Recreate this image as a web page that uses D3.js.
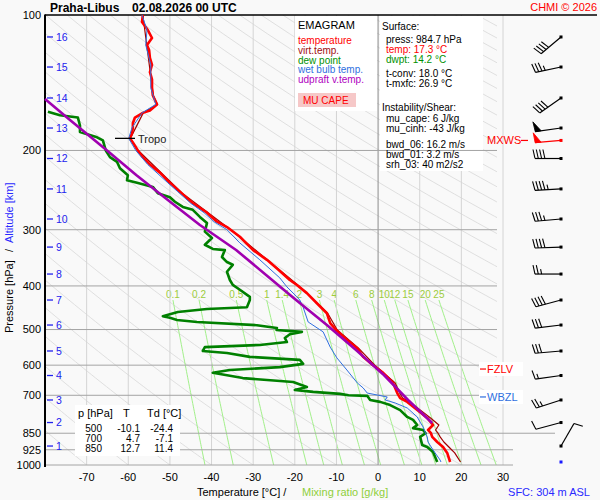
<!DOCTYPE html>
<html>
<head>
<meta charset="utf-8">
<script src="https://cdn.jsdelivr.net/npm/d3@7"></script>
<style>
    body { margin: 0; background: #f9f9f9; }
    svg { display: block; font-family: "Liberation Sans", Arial, sans-serif; }
</style>
</head>
<body>
<div id="chart"></div>
<script>
/*global d3 */

////////////////////////////////////////
// data read off the sounding
////////////////////////////////////////

var presLevels = [100, 200, 300, 400, 500, 600, 700, 850, 925, 1000];
var tempTicks = [-70, -60, -50, -40, -30, -20, -10, 0, 10, 20, 30];
var mixRatios = [0.1, 0.2, 0.5, 1, 1.4, 2, 3, 4, 6, 8, 10, 12, 15, 20, 25];
var mixLabels = ["0.1", "0.2", "0.5", "1", "1.4", "2", "3", "4", "6", "8",
                 "10", "12", "15", "20", "25"];

var altKm = [1, 2, 3, 4, 5, 6, 7, 8, 9, 10, 11, 12, 13, 14, 15, 16];
var altP = [907.5, 804.7, 717, 632.6, 558, 488.6, 429.9, 376.4, 327.9,
            284, 243.5, 208.4, 178.3, 152.9, 130.5, 111.9];

var tempP = [100, 103.6, 108, 112.5, 116.6, 119.6, 124.6, 129, 134, 139,
             145, 151, 158, 163, 165, 169, 174, 178, 183, 188, 192, 200,
             207, 215, 224, 236, 247, 262, 275, 288, 296, 311, 333, 350,
             369, 388, 398, 415, 437, 460, 484, 501, 527, 550, 575, 600,
             624, 657, 692, 710, 724, 763, 786, 815, 836, 850, 866, 889,
             912, 940, 984.7];
var tempT = [-56.5, -56.7, -55.3, -54.3, -55.5, -55.0, -54.8, -54.3, -54.8,
             -54.3, -54.3, -54.1, -53.1, -54.8, -56.5, -58.4, -58.9, -58.9,
             -59.1, -59.6, -58.9, -57.7, -56.5, -54.8, -52.4, -50.0, -47.6,
             -44.5, -41.1, -38.7, -36.3, -33.2, -30.0, -26.7, -23.8, -21.2,
             -19.5, -17.1, -14.7, -12.3, -11.5, -10.1, -7.5, -5.0, -3.6,
             -1.2, 1.2, 3.6, 4.6, 5.3, 7.0, 10.1, 11.8, 13.2, 12.0, 12.7,
             13.0, 14.2, 15.6, 16.6, 17.3];

var virtP = [100, 151, 158, 165, 188, 200, 250, 300, 400, 460, 501, 550,
             600, 657, 692, 710, 724, 763, 786, 815, 836, 850, 866, 889,
             912, 940, 984.7];
var virtT = [-56.5, -54.0, -53.0, -56.4, -59.5, -57.6, -46.8, -35.4, -19.0,
             -12.1, -9.8, -4.7, -0.8, 4.1, 5.2, 5.9, 7.6, 10.8, 12.6, 14.6,
             13.8, 14.4, 14.9, 15.8, 17.0, 18.4, 19.8];

var dewP = [164, 167, 169, 176, 182, 187, 190, 200, 207, 212, 219, 227, 233,
            236, 241, 249, 254, 260, 267, 271, 281, 290, 303, 313, 324, 331,
            333, 345, 354, 359, 372, 388, 398, 408, 423, 430, 446, 450, 457,
            467, 471, 476, 481, 489, 496, 501, 506, 512, 522, 533, 541, 547,
            558, 564, 575, 584, 596, 606, 615, 624, 641, 654, 671, 681, 688,
            695, 700, 702, 717, 724, 736, 755, 782, 794, 815, 828, 836, 850,
            866, 903, 912, 936, 984.7];
var dewT = [-79.3, -76.4, -72.1, -71.6, -71.6, -67.5, -66.1, -65.4, -64.4,
            -62.7, -62.0, -60.1, -60.3, -57.9, -54.1, -52.9, -50.0, -48.8,
            -46.9, -44.5, -42.8, -41.1, -41.6, -39.9, -41.6, -39.7, -36.8,
            -37.5, -36.3, -34.9, -36.3, -35.6, -34.9, -33.2, -30.8, -30.8,
            -31.5, -41.1, -48.1, -51.7, -50.0, -48.3, -43.5, -29.1, -24.3,
            -24.4, -18.3, -21.2, -22.4, -21.9, -28.4, -41.6, -42.1, -36.3,
            -30.8, -18.8, -18.0, -23.6, -35.6, -39.7, -32.5, -20.4, -17.1,
            -20.0, -15.6, -9.1, -7.1, -2.6, -1.9, 0.5, 2.9, 5.3, 7.0, 8.4,
            9.4, 8.4, 10.8, 11.4, 10.1, 10.6, 11.8, 13.2, 14.2];

var wetP = [100, 108, 116.6, 129, 145, 158, 165, 178, 188, 200, 215, 236,
            247, 262, 275, 288, 300, 321, 350, 384, 402, 423, 430, 446, 481,
            506, 547, 578, 615, 657, 674, 692, 699, 706, 717, 728, 747, 782,
            803, 823, 845, 866, 889, 926, 975, 984.7];
var wetT = [-56.7, -55.5, -55.8, -54.6, -54.6, -53.4, -56.7, -59.1, -59.9,
            -58.2, -55.3, -50.5, -48.1, -45.0, -41.8, -39.4, -36.3, -33.2,
            -28.4, -23.6, -21.9, -19.5, -18.8, -18.0, -16.8, -13.2, -11.5,
            -9.9, -7.5, -5.0, -3.6, -2.6, -0.2, 2.2, 1.7, 4.1, 7.0, 9.4,
            10.1, 10.8, 11.3, 11.8, 12.0, 13.2, 14.9, 15.1];

var parcP = [153.7, 171.1, 200, 226.8, 257.7, 292.9, 332.8, 378.2, 429.9,
             488.5, 555.2, 631.0, 717.1, 806.6];
var parcT = [-80.0, -74.0, -65.1, -58.1, -50.5, -42.8, -34.1, -26.9, -19.7,
             -12.3, -5.3, 1.4, 7.2, 13.0];

// winds at each km (same order as altKm)
var windDir = [30, 255, 252, 262, 265, 263, 255, 270, 268, 265, 267, 270,
               262, 235, 258, 230];
var windSpd = [10, 10, 25, 15, 30, 30, 40, 25, 40, 35, 45, 40, 50, 40, 35, 40];
var mxwsP = 190, mxwsDir = 265, mxwsSpd = 50;
var sfcP = 984.7;

var tropoP = 188, fzlvP = 612, wbzlP = 706;

var tableHead = ["p [hPa]", "T", "Td [°C]"];
var tableRows = [["500", "-10.1", "-24.4"],
                 ["700", "4.7", "-7.1"],
                 ["850", "12.7", "11.4"]];

var legendItems = [{t: "temperature", c: "#ff0000"},
                   {t: "virt.temp.", c: "#a01010"},
                   {t: "dew point", c: "#009000"},
                   {t: "wet bulb temp.", c: "#2f6fe0"},
                   {t: "udpraft v.temp.", c: "#b000c0"}];

var infoLines = [{t: "Surface:", c: "#000", dx: 0, y: 30},
                 {t: "press: 984.7 hPa", c: "#000", dx: 4, y: 43},
                 {t: "temp: 17.3 °C", c: "#ff0000", dx: 4, y: 53},
                 {t: "dwpt: 14.2 °C", c: "#009000", dx: 4, y: 63},
                 {t: "t-conv: 18.0 °C", c: "#000", dx: 4, y: 77},
                 {t: "t-mxfc: 26.9 °C", c: "#000", dx: 4, y: 87},
                 {t: "Instability/Shear:", c: "#000", dx: 0, y: 111},
                 {t: "mu_cape: 6 J/kg", c: "#000", dx: 4, y: 122},
                 {t: "mu_cinh: -43 J/kg", c: "#000", dx: 4, y: 132},
                 {t: "bwd_06: 16.2 m/s", c: "#000", dx: 4, y: 147.5},
                 {t: "bwd_01: 3.2 m/s", c: "#000", dx: 4, y: 157.5},
                 {t: "srh_03: 40 m2/s2", c: "#000", dx: 4, y: 167.5}];


////////////////////////////////////////
// helpers
////////////////////////////////////////

var x = d3.scaleLinear().domain([-80, 30]).range([45, 503]),
    y = d3.scaleLog().domain([100, 1000]).range([15, 465]),
    svg = d3.select("#chart").append("svg")
        .attr("width", 600).attr("height", 500);

var profLine = function (P, T) {
    return d3.line()(P.map(function (p, i) { return [x(T[i]), y(p)]; }));
};

// saturation temperature for mixing ratio w (g/kg) at p (hPa)
var mixTemp = function (w, p) {
    var e = w * p / (622 + w), l = Math.log(e / 6.112);
    return 243.5 * l / (17.67 - l);
};

var isobarEnd = function (p) {
    if (p === 600 || p === 700) { return 523; }
    if (p === 850) { return 555; }
    if (p === 925 || p === 1000) { return 513; }
    return 497;
};

var drawBarb = function (g, px, py, dir, spd, color) {
    var L = 26, r = dir * Math.PI / 180,
        ux = Math.sin(r), uy = -Math.cos(r),
        nx = -uy, ny = ux,
        tx = px + L * ux, ty = py + L * uy,
        rem = Math.round(spd / 5) * 5, pos = 0, bx, by;
    g.append("line").attr("x1", px).attr("y1", py)
        .attr("x2", tx).attr("y2", ty)
        .attr("stroke", color).attr("stroke-width", 1.2);
    while (rem >= 50) {
        bx = tx - ux * pos; by = ty - uy * pos;
        g.append("path")
            .attr("d", "M" + bx + "," + by +
                  "L" + (bx + nx * 10 + ux * 1) + "," + (by + ny * 10 + uy * 1) +
                  "L" + (bx - ux * 6) + "," + (by - uy * 6) + "Z")
            .attr("fill", color).attr("stroke", color).attr("stroke-width", 0.8);
        pos += 7; rem -= 50;
    }
    while (rem >= 10) {
        bx = tx - ux * pos; by = ty - uy * pos;
        g.append("line").attr("x1", bx).attr("y1", by)
            .attr("x2", bx + nx * 9 + ux * 2).attr("y2", by + ny * 9 + uy * 2)
            .attr("stroke", color).attr("stroke-width", 1.1);
        pos += 3.3; rem -= 10;
    }
    if (rem >= 5) {
        if (pos === 0) { pos = 3.3; }
        bx = tx - ux * pos; by = ty - uy * pos;
        g.append("line").attr("x1", bx).attr("y1", by)
            .attr("x2", bx + nx * 5 + ux * 1).attr("y2", by + ny * 5 + uy * 1)
            .attr("stroke", color).attr("stroke-width", 1.1);
    }
    g.append("rect").attr("x", px - 1.5).attr("y", py - 1.5)
        .attr("width", 3).attr("height", 3).attr("fill", color);
};

// one text element holding several lines (tspans with absolute positions)
var textBlock = function (items, size) {
    var t = svg.append("text").attr("font-size", size);
    items.forEach(function (d) {
        t.append("tspan").attr("x", d.x).attr("y", d.y)
            .attr("text-anchor", d.anchor || "start")
            .attr("font-size", d.size || size)
            .attr("fill", d.c || "#000").text(d.t);
    });
    return t;
};


////////////////////////////////////////
// grid
////////////////////////////////////////

svg.append("rect").attr("width", 600).attr("height", 500).attr("fill", "#f9f9f9");

svg.append("defs").append("clipPath").attr("id", "plotclip")
    .append("rect").attr("x", 45).attr("y", 15).attr("width", 452).attr("height", 450);

var grid = svg.append("g").attr("clip-path", "url(#plotclip)");

d3.range(-80, 330, 10).forEach(function (th) {
    var pts = d3.range(100, 1001, 10).map(function (p) {
        return [x((th + 273.15) * Math.pow(p / 1000, 0.2857) - 273.15), y(p)];
    });
    grid.append("path").attr("d", d3.line()(pts))
        .attr("fill", "none").attr("stroke", "#d8d8d8").attr("stroke-width", 0.8);
});

mixRatios.forEach(function (w, i) {
    var pts = d3.range(430, 1001, 10).map(function (p) {
        return [x(mixTemp(w, p)), y(p)];
    });
    svg.append("path").attr("d", d3.line()(pts))
        .attr("fill", "none").attr("stroke", "#a2f08a").attr("stroke-width", 1);
    svg.append("text").attr("x", x(mixTemp(w, 430))).attr("y", 298)
        .attr("text-anchor", "middle").attr("font-size", 10)
        .attr("fill", "#9ccc3c").text(mixLabels[i]);
});

tempTicks.forEach(function (t) {
    svg.append("line").attr("x1", x(t)).attr("x2", x(t))
        .attr("y1", 15).attr("y2", 465)
        .attr("stroke", t === 0 ? "#8c8c8c" : "#d4d4d4").attr("stroke-width", 1);
    svg.append("text").attr("x", x(t)).attr("y", 481)
        .attr("text-anchor", "middle").attr("font-size", 11).text(t);
});

// legend and info boxes
svg.append("rect").attr("x", 295).attr("y", 16).attr("width", 82).attr("height", 95)
    .attr("fill", "#ffffff");
svg.append("rect").attr("x", 380).attr("y", 16).attr("width", 103).attr("height", 155)
    .attr("fill", "#ffffff");

presLevels.forEach(function (p) {
    if (p === 100) { return; }
    svg.append("line").attr("x1", 45).attr("x2", isobarEnd(p))
        .attr("y1", y(p)).attr("y2", y(p))
        .attr("stroke", "#a4a4a4").attr("stroke-width", 1);
});
presLevels.forEach(function (p) {
    svg.append("text").attr("x", 41).attr("y", y(p)).attr("dy", "0.36em")
        .attr("text-anchor", "end").attr("font-size", 11).text(p);
});

// frame
svg.append("line").attr("x1", 45).attr("x2", 597).attr("y1", y(100)).attr("y2", y(100))
    .attr("stroke", "#000").attr("stroke-width", 1.5);
svg.append("line").attr("x1", 45).attr("x2", 45).attr("y1", 14.5).attr("y2", 467)
    .attr("stroke", "#000").attr("stroke-width", 2);

// table box
svg.append("rect").attr("x", 75).attr("y", 405).attr("width", 105).attr("height", 51)
    .attr("fill", "#ffffff");
var colX = [78, 123, 147], colR = [102, 140, 173], cells = [];
tableHead.forEach(function (h, i) {
    cells.push({x: colX[i], y: 417, t: h, size: 11});
});
tableRows.forEach(function (row, j) {
    row.forEach(function (v, i) {
        cells.push({x: colR[i], y: 431.5 + j * 10, t: v, anchor: "end"});
    });
});
textBlock(cells, 10);


////////////////////////////////////////
// profiles
////////////////////////////////////////

var prof = svg.append("g").attr("fill", "none").attr("stroke-linejoin", "round");
prof.append("path").attr("d", profLine(virtP, virtT))
    .attr("stroke", "#a00000").attr("stroke-width", 1.2);
prof.append("path").attr("d", profLine(tempP, tempT))
    .attr("stroke", "#ff0000").attr("stroke-width", 2.6);
prof.append("path").attr("d", profLine(dewP, dewT))
    .attr("stroke", "#008000").attr("stroke-width", 2.6);
prof.append("path").attr("d", profLine(wetP, wetT))
    .attr("stroke", "#2f6fe0").attr("stroke-width", 1);
prof.append("path").attr("d", profLine(parcP, parcT))
    .attr("stroke", "#a000b0").attr("stroke-width", 2.6);

// tropopause
svg.append("line").attr("x1", 115).attr("x2", 135).attr("y1", y(tropoP)).attr("y2", y(tropoP))
    .attr("stroke", "#000").attr("stroke-width", 1.3);
svg.append("text").attr("x", 138).attr("y", y(tropoP) + 5)
    .attr("font-size", 11).attr("fill", "#222").text("Tropo");

// altitude ticks
altKm.forEach(function (k, i) {
    var yy = y(altP[i]);
    svg.append("line").attr("x1", 47).attr("x2", 53).attr("y1", yy).attr("y2", yy)
        .attr("stroke", "#2222ee").attr("stroke-width", 1.3);
    svg.append("text").attr("x", 56).attr("y", yy).attr("dy", "0.36em")
        .attr("font-size", 10.5).attr("fill", "#2222ee").text(k);
});

// freezing / wet bulb zero levels
[{p: fzlvP, t: "FZLV", c: "#ff0000"}, {p: wbzlP, t: "WBZL", c: "#2f6fe0"}]
    .forEach(function (m) {
        var yy = y(m.p);
        svg.append("rect").attr("x", 479).attr("y", yy - 7).attr("width", 44)
            .attr("height", 14).attr("fill", "#ffffff");
        svg.append("line").attr("x1", 480).attr("x2", 486).attr("y1", yy).attr("y2", yy)
            .attr("stroke", m.c).attr("stroke-width", 1.2);
        svg.append("text").attr("x", 487).attr("y", yy + 4)
            .attr("font-size", 11).attr("fill", m.c).text(m.t);
    });


////////////////////////////////////////
// winds
////////////////////////////////////////

var barbs = svg.append("g");
altKm.forEach(function (k, i) {
    drawBarb(barbs, 561, y(altP[i]), windDir[i], windSpd[i], "#000");
});
drawBarb(barbs, 561, y(mxwsP), mxwsDir, mxwsSpd, "#ff0000");
svg.append("text").attr("x", 487).attr("y", y(mxwsP) + 4)
    .attr("font-size", 11).attr("fill", "#ff0000").text("MXWS");
svg.append("line").attr("x1", 521).attr("x2", 528).attr("y1", y(mxwsP)).attr("y2", y(mxwsP))
    .attr("stroke", "#ff0000").attr("stroke-width", 1.2);
svg.append("rect").attr("x", 559.5).attr("y", y(sfcP) - 1.5)
    .attr("width", 3).attr("height", 3).attr("fill", "#1a1aff");


////////////////////////////////////////
// texts
////////////////////////////////////////

svg.append("text").attr("x", 50).attr("y", 12).attr("font-size", 12)
    .attr("font-weight", "bold").text("Praha-Libus");
svg.append("text").attr("x", 132).attr("y", 12).attr("font-size", 12)
    .attr("font-weight", "bold").text("02.08.2026 00 UTC");
svg.append("text").attr("x", 597).attr("y", 11).attr("font-size", 11)
    .attr("text-anchor", "end").attr("fill", "#ff0000").text("CHMI © 2026");

svg.append("text").attr("x", 298).attr("y", 29).attr("font-size", 11).text("EMAGRAM");
textBlock(legendItems.map(function (d, i) {
    return {x: 298, y: 44 + i * 9.8, t: d.t, c: d.c};
}), 10);
svg.append("rect").attr("x", 298).attr("y", 93).attr("width", 58).attr("height", 14)
    .attr("fill", "#f6c8c8");
svg.append("text").attr("x", 303).attr("y", 104).attr("font-size", 10)
    .attr("fill", "#ff0000").text("MU CAPE");

textBlock(infoLines.map(function (d) {
    return {x: 382 + d.dx, y: d.y, t: d.t, c: d.c};
}), 10);

svg.append("text").attr("x", 197).attr("y", 496).attr("font-size", 11)
    .text("Temperature [°C]  /");
svg.append("text").attr("x", 302).attr("y", 496).attr("font-size", 11)
    .attr("fill", "#8fcf3c").text("Mixing ratio [g/kg]");
svg.append("text").attr("x", 590).attr("y", 496).attr("font-size", 11)
    .attr("text-anchor", "end").attr("fill", "#2a2aff").text("SFC: 304 m ASL");

svg.append("text").attr("transform", "translate(13,333) rotate(-90)")
    .attr("font-size", 11).text("Pressure [hPa]");
svg.append("text").attr("transform", "translate(13,252) rotate(-90)")
    .attr("font-size", 11).text("/");
svg.append("text").attr("transform", "translate(13,243) rotate(-90)")
    .attr("font-size", 11).attr("fill", "#2a2aff").text("Altitude [km]");
</script>
</body>
</html>
